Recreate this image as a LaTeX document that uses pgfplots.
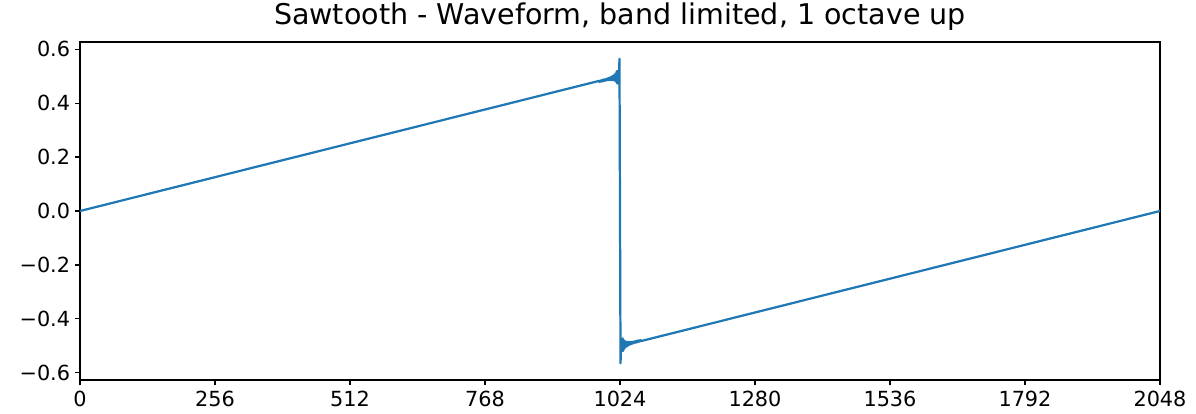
\documentclass[border=0pt]{standalone}
\usepackage{fontspec}
\setmainfont{DejaVu Sans}
\usepackage{pgfplots}
\pgfplotsset{compat=1.18}
\definecolor{mplblue}{HTML}{1F77B4}
\begin{document}
\begin{tikzpicture}
\begin{axis}[
  at={(0,0)}, anchor=south west,
  scale only axis,
  width=810pt, height=253.5pt,
  xmin=0, xmax=2048,
  ymin=-0.627, ymax=0.627,
  xtick={0,256,512,768,1024,1280,1536,1792,2048},
  ytick={-0.6,-0.4,-0.2,0,0.2,0.4,0.6},
  yticklabels={−0.6,−0.4,−0.2,0.0,0.2,0.4,0.6},
  /pgf/number format/assume math mode=true,
  /pgf/number format/1000 sep={},
  tick align=outside,
  tick pos=left,
  major tick length=3.9pt,
  every tick/.style={black, line width=0.9pt},
  axis line style={black, line width=0.9pt},
  tick label style={font=\fontsize{15.6}{18}\selectfont},
  xticklabel style={yshift=-0.5pt},
  title={Sawtooth - Waveform, band limited, 1 octave up},
  title style={font=\fontsize{21.4}{25}\selectfont, at={(0.5,1)}, anchor=base, yshift=7.5pt},
]
\addplot[mplblue, line width=1.67pt, line join=round] coordinates {
(0,0)
(984,0.4825) (985,0.4790) (986,0.4835) (987,0.4799) (988,0.4849) (989,0.4804)
(990,0.4859) (991,0.4814) (992,0.4874) (993,0.4819) (994,0.4884) (995,0.4828)
(996,0.4883) (997,0.4848) (998,0.4903) (999,0.4848) (1000,0.4913) (1001,0.4858)
(1002,0.4933) (1003,0.4857) (1004,0.4942) (1005,0.4857) (1006,0.4962) (1007,0.4857)
(1008,0.4982) (1009,0.4857) (1010,0.5012) (1011,0.4857) (1012,0.5031) (1013,0.4846)
(1014,0.5061) (1015,0.4826) (1016,0.5111) (1017,0.4786) (1018,0.5191) (1019,0.4726)
(1020,0.5180) (1021,0.5200) (1022,0.5000) (1023,0.5650) (1024,0.0000)
(1025,-0.5650) (1026,-0.5000) (1027,-0.5200) (1028,-0.5180) (1029,-0.4726) (1030,-0.5191)
(1031,-0.4786) (1032,-0.5111) (1033,-0.4826) (1034,-0.5061) (1035,-0.4846) (1036,-0.5031)
(1037,-0.4857) (1038,-0.5012) (1039,-0.4857) (1040,-0.4982) (1041,-0.4857) (1042,-0.4962)
(1043,-0.4857) (1044,-0.4942) (1045,-0.4857) (1046,-0.4933) (1047,-0.4858) (1048,-0.4913)
(1049,-0.4848) (1050,-0.4903) (1051,-0.4848) (1052,-0.4883) (1053,-0.4828) (1054,-0.4884)
(1055,-0.4819) (1056,-0.4874) (1057,-0.4814) (1058,-0.4859) (1059,-0.4804) (1060,-0.4849)
(1061,-0.4799) (1062,-0.4835) (1063,-0.4790) (1064,-0.4825)
(2048,0)
};
\end{axis}
\pgfresetboundingbox
\path (-60pt,-25.5pt) rectangle (837pt,285pt);
\end{tikzpicture}
\end{document}
